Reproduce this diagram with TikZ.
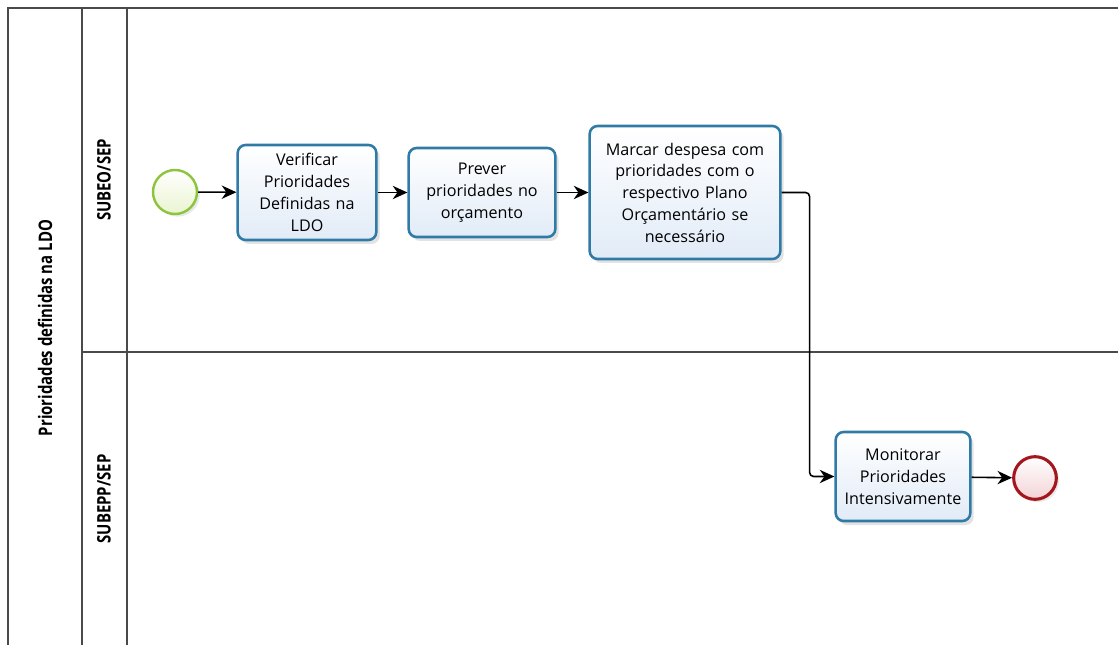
\documentclass[tikz,border=0pt]{standalone}
\usepackage{fontspec}
\setmainfont{Open Sans}
\newfontfamily\lanefont{Open Sans}[FakeStretch=0.8]
\usetikzlibrary{arrows.meta,shadows}
\definecolor{taskline}{HTML}{2F7BA6}
\definecolor{taskfill}{HTML}{E1EBF7}
\definecolor{startline}{HTML}{8CC43C}
\definecolor{startfill}{HTML}{EAF4D0}
\definecolor{endline}{HTML}{A3161C}
\definecolor{endfill}{HTML}{F3D3D6}
\definecolor{poolline}{HTML}{4A4A4A}
\tikzset{
  task/.style={draw=taskline, line width=1.9pt, rounded corners=6pt,
    top color=white, bottom color=taskfill, align=center,
    font=\fontsize{12.1}{16.3}\selectfont, inner sep=2pt,
    drop shadow={shadow xshift=2.5pt, shadow yshift=-3pt, opacity=0.18, fill=black!60}},
  startev/.style={circle, draw=startline, line width=1.8pt, minimum size=33pt,
    inner sep=0pt, top color=white, bottom color=startfill,
    drop shadow={shadow xshift=2pt, shadow yshift=-2pt, opacity=0.15, fill=black!60}},
  endev/.style={circle, draw=endline, line width=2.3pt, minimum size=32pt,
    inner sep=0pt, top color=white, bottom color=endfill,
    drop shadow={shadow xshift=2pt, shadow yshift=-2pt, opacity=0.15, fill=black!60}},
  flow/.style={draw=black, line width=1.2pt, -{Stealth[length=11pt, width=10pt, inset=3.5pt]}},
  pool/.style={draw=poolline, line width=0.8pt},
  lanelabel/.style={rotate=90, font=\lanefont\bfseries\fontsize{14}{16}\selectfont, inner sep=0pt}
}
\begin{document}
\begin{tikzpicture}[x=0.75pt, y=-0.75pt]
\useasboundingbox (0,0) rectangle (1118,645);
\fill[white] (0,0) rectangle (1118,645);
% pool and lanes
\draw[pool] (1118,8) -- (8,8) -- (8,645);
\draw[pool] (82,8) -- (82,645);
\draw[pool] (127,8) -- (127,645);
\draw[pool] (82,352) -- (1118,352);
\node[lanelabel] (pl) at (45,328) {Prioridades definidas na LDO};
\node[lanelabel] (l1) at (104,180) {SUBEO/SEP};
\node[lanelabel] (l2) at (104,499) {SUBEPP/SEP};
% nodes
\node[startev] (s) at (175,192) {};
\node[task, minimum width=103.5pt, minimum height=71.25pt, text width=100pt] (t1) at (307,192.5)
  {Verificar\\Prioridades\\Definidas na\\LDO};
\node[task, minimum width=109.5pt, minimum height=66.75pt, text width=106pt] (t2) at (482,192.5)
  {Prever\\prioridades no\\orçamento};
\node[task, minimum width=142.5pt, minimum height=99.75pt, text width=139pt] (t3) at (685,192.5)
  {Marcar despesa com\\prioridades com o\\respectivo Plano\\Orçamentário se\\necessário};
\node[task, minimum width=100.5pt, minimum height=66.75pt, text width=97pt] (t4) at (903,476.5)
  {Monitorar\\Prioridades\\Intensivamente};
\node[endev] (e) at (1035,478) {};
% flows
\draw[flow] (s) -- (t1);
\draw[flow] (t1) -- (t2);
\draw[flow] (t2) -- (t3);
\draw[flow, rounded corners=3pt] (t3.east) -- ++(28,0) |- (t4.west);
\draw[flow] (t4) -- (e);
\end{tikzpicture}
\end{document}
